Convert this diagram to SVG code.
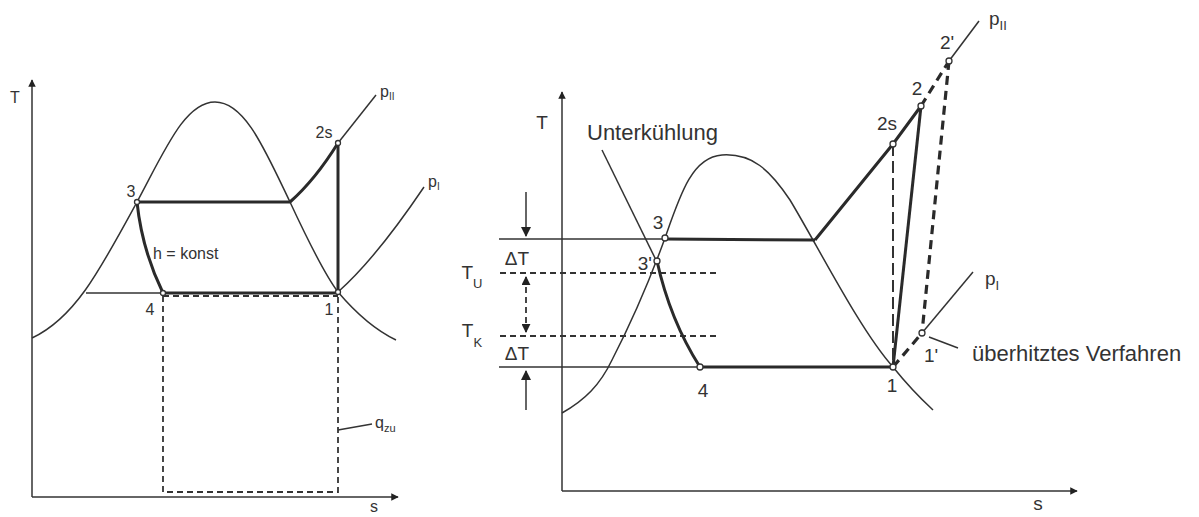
<svg xmlns="http://www.w3.org/2000/svg" width="1199" height="517" viewBox="0 0 1199 517">
<style>
.thin{fill:none;stroke:#333;stroke-width:1.5}
.thick{fill:none;stroke:#2a2a2a;stroke-width:3}
.dash{fill:none;stroke:#333;stroke-width:1.8;stroke-dasharray:6 4}
.ldash{fill:none;stroke:#333;stroke-width:2;stroke-dasharray:12 5}
.tdash{fill:none;stroke:#2a2a2a;stroke-width:3.2;stroke-dasharray:9 6}
.pt{fill:#fff;stroke:#333;stroke-width:1.3}
text{font-family:"Liberation Sans",Arial,sans-serif;fill:#333}
.s{font-size:16px}
.m{font-size:19px}
.b{font-size:22px}
</style>
<defs>
<marker id="ah" viewBox="0 0 10 10" refX="9" refY="5" markerWidth="5" markerHeight="5" orient="auto-start-reverse" markerUnits="strokeWidth">
<path d="M0,0 L10,5 L0,10 z" fill="#222"/>
</marker>
<marker id="ah2" viewBox="0 0 10 10" refX="9" refY="5" markerWidth="7" markerHeight="7" orient="auto-start-reverse" markerUnits="strokeWidth">
<path d="M0,0 L10,5 L0,10 z" fill="#222"/>
</marker>
</defs>

<!-- LEFT DIAGRAM -->
<g id="left-axes">
<path class="thin" d="M32,497 L32,80" stroke-width="2" marker-end="url(#ah)"/>
<path class="thin" d="M32,497 L398,497" stroke-width="2" marker-end="url(#ah)"/>
<text class="s" x="15" y="103" text-anchor="middle">T</text>
<text class="s" x="374" y="512" text-anchor="middle">s</text>
</g>
<g id="left-dome">
<path class="thin" d="M32,338 C75,318 100,270 137,202 C165,150 185,102 215,102 C245,102 265,150 290,202 C310,245 325,275 338,292 C355,312 375,330 396,340"/>
</g>
<g id="left-cycle">
<path class="thin" d="M86,293 L163,293"/>
<path class="thick" d="M137,202 L290,202"/>
<path class="thick" d="M290,202 Q315,180 338,143"/>
<path class="thick" d="M338,143 L338,292"/>
<path class="thick" d="M163,293 L338,293"/>
<path class="thick" d="M137,202 Q142,250 163,293"/>
<path class="thin" d="M338,143 L376,95"/>
<path class="thin" d="M338,292 C365,268 395,230 424,187"/>
<path class="dash" d="M163,296 L338,296 M163,296 L163,492 L338,492 L338,296"/>
<path class="thin" d="M338,430 L372,424"/>
</g>
<g id="left-points">
<circle class="pt" cx="137" cy="202" r="2.5"/>
<circle class="pt" cx="338" cy="143" r="2.5"/>
<circle class="pt" cx="163" cy="293" r="2.5"/>
<circle class="pt" cx="338" cy="292" r="2.5"/>
</g>
<g id="left-labels">
<text class="s" x="131" y="197" text-anchor="middle">3</text>
<text class="s" x="324" y="138" text-anchor="middle">2s</text>
<text class="s" x="150" y="315" text-anchor="middle">4</text>
<text class="s" x="329" y="315" text-anchor="middle">1</text>
<text class="s" x="153" y="259">h = konst</text>
<text class="s" x="380" y="97">p<tspan font-size="10" dy="3">II</tspan></text>
<text class="s" x="428" y="187">p<tspan font-size="10" dy="3">I</tspan></text>
<text class="s" x="375" y="428">q<tspan font-size="11" dy="4">zu</tspan></text>
</g>

<!-- RIGHT DIAGRAM -->
<g id="right-axes">
<path class="thin" d="M562,491 L562,92" stroke-width="2" marker-end="url(#ah)"/>
<path class="thin" d="M562,491 L1077,491" stroke-width="2" marker-end="url(#ah)"/>
<text class="m" x="542" y="129" text-anchor="middle">T</text>
<text class="m" x="1038" y="510" text-anchor="middle">s</text>
</g>
<g id="right-dome">
<path class="thin" d="M562,413 C585,400 600,385 612,360 C630,325 648,285 665,238 C680,195 692,157 722,155 C752,153 770,170 790,200 C820,250 860,330 893,367 C905,382 920,398 933,410"/>
</g>
<g id="right-levels">
<path class="thin" d="M499,239 L665,239"/>
<path class="thin" d="M499,367 L700,367"/>
<path class="dash" d="M500,273 L720,273" stroke-dasharray="10 6"/>
<path class="dash" d="M500,336 L720,336" stroke-dasharray="10 6"/>
</g>
<g id="right-cycle">
<path class="thick" d="M665,239 L815,240"/>
<path class="thick" d="M815,240 L893,144 L921,106"/>
<path class="thick" d="M657,261 Q670,320 700,367"/>
<path class="thick" d="M700,367 L893,367"/>
<path class="thick" d="M893,367 L921,106"/>
<path class="ldash" d="M893,144 L893,367"/>
<path class="tdash" d="M921,106 L949,61"/>
<path class="tdash" d="M949,61 L922,333"/>
<path class="tdash" d="M893,367 L922,333"/>
<path class="thin" d="M949,61 L979,21"/>
<path class="thin" d="M922,333 L973,272"/>
<path class="thin" d="M929,337 L958,348"/>
<path class="thin" d="M602,150 L655,258"/>
</g>
<g id="right-arrows">
<path class="thin" d="M526,192 L526,236" marker-end="url(#ah2)"/>
<path class="dash" d="M526,277 L526,332" stroke-dasharray="8 5" marker-start="url(#ah)" marker-end="url(#ah)"/>
<path class="thin" d="M526,410 L526,371" marker-end="url(#ah2)"/>
</g>
<g id="right-points">
<circle class="pt" cx="665" cy="238" r="3"/>
<circle class="pt" cx="657" cy="261" r="3"/>
<circle class="pt" cx="700" cy="367" r="3"/>
<circle class="pt" cx="893" cy="367" r="3"/>
<circle class="pt" cx="893" cy="144" r="3"/>
<circle class="pt" cx="921" cy="106" r="3"/>
<circle class="pt" cx="949" cy="61" r="3"/>
<circle class="pt" cx="922" cy="333" r="3"/>
</g>
<g id="right-labels">
<text class="b" x="587" y="140">Unterkühlung</text>
<text class="m" x="658" y="229" text-anchor="middle">3</text>
<text class="m" x="652" y="270" text-anchor="end">3'</text>
<text class="m" x="517" y="265" text-anchor="middle">ΔT</text>
<text class="m" x="517" y="360" text-anchor="middle">ΔT</text>
<text class="m" x="472" y="279" text-anchor="middle">T<tspan font-size="13" dy="9">U</tspan></text>
<text class="m" x="472" y="337" text-anchor="middle">T<tspan font-size="13" dy="10">K</tspan></text>
<text class="m" x="703" y="397" text-anchor="middle">4</text>
<text class="m" x="892" y="392" text-anchor="middle">1</text>
<text class="m" x="924" y="362">1'</text>
<text class="m" x="887" y="130" text-anchor="middle">2s</text>
<text class="m" x="917" y="95" text-anchor="middle">2</text>
<text class="m" x="947" y="49" text-anchor="middle">2'</text>
<text class="m" x="989" y="25">p<tspan font-size="13" dy="5">II</tspan></text>
<text class="m" x="985" y="285">p<tspan font-size="13" dy="5">I</tspan></text>
<text class="b" x="972" y="361">überhitztes Verfahren</text>
</g>
</svg>
